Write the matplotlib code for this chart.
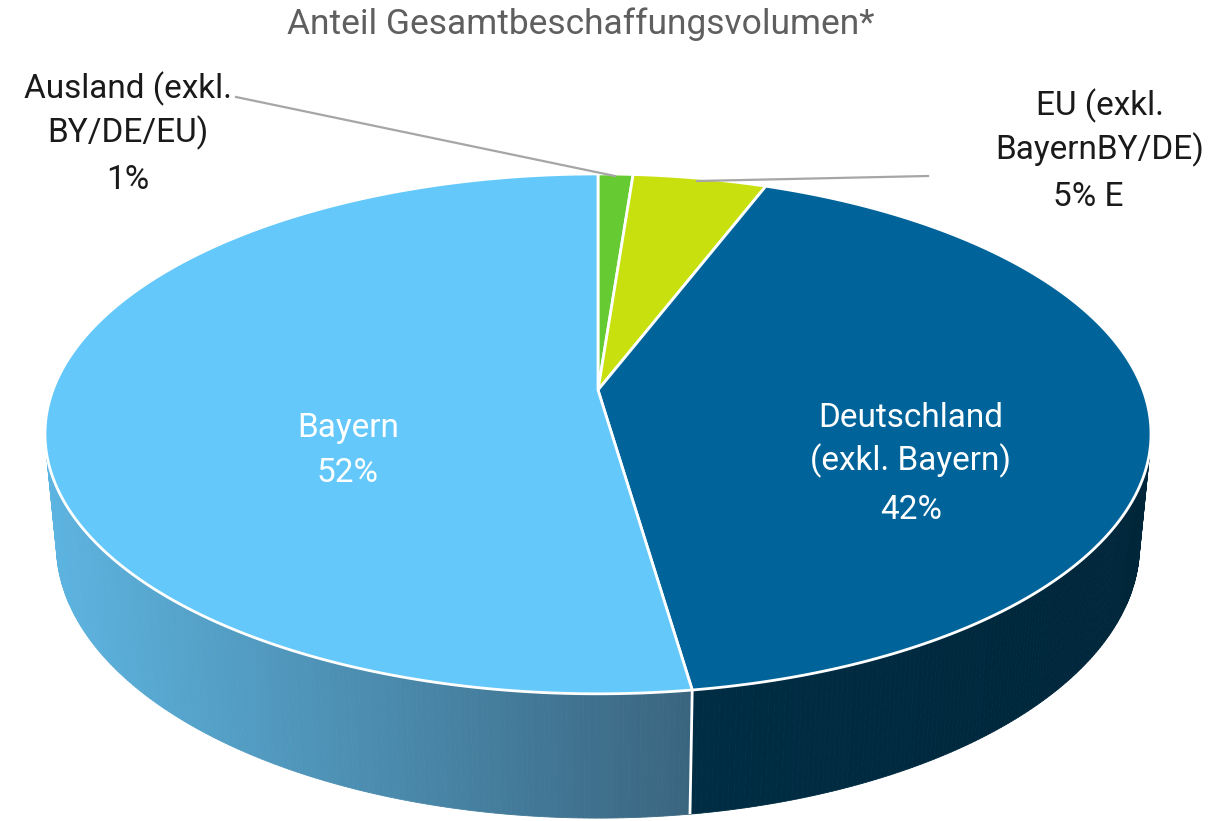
import numpy as np
import matplotlib
matplotlib.use("Agg")
import matplotlib.pyplot as plt
from matplotlib.patches import Polygon
from matplotlib.colors import to_rgb

# ---------------- data ----------------
title = "Anteil Gesamtbeschaffungsvolumen*"
categories = ["Ausland (exkl.\nBY/DE/EU)", "EU (exkl.\nBayernBY/DE)",
              "Deutschland\n(exkl. Bayern)", "Bayern"]
values = [1.2, 4.6, 41.9, 52.3]
pct_labels = ["1%", "5% E", "42%", "52%"]
top_colors = ["#66CA33", "#C8E10E", "#00649A", "#64C9FA"]
side_colors = [("#55AA2A", "#55AA2A"), ("#A8BD0B", "#A8BD0B"),
               ("#002D44", "#00263A"), ("#5DB4E0", "#3A657F")]

FONT = ["Roboto", "DejaVu Sans"]

# ---------------- projection (perspective 3D pie) ----------------
elev = np.radians(27.6)
ce, se = np.cos(elev), np.sin(elev)
Dcam = 5.25
height = 0.232
CX, CY = 598, 390


def proj(phi, z):
    X = np.cos(phi)
    ry = np.sin(phi) + Dcam * ce
    rz = z - Dcam * se
    depth = ry * ce - rz * se
    up = ry * se + rz * ce
    return X / depth, up / depth


_ph = np.linspace(-np.pi, np.pi, 4000)
_sx, _ = proj(_ph, 0.0)
K = 553.0 / _sx.max()


def to_px(phi, z):
    sx, sy = proj(phi, z)
    return CX + K * sx, CY - K * sy


fig = plt.figure(figsize=(12.15, 8.21), dpi=100)
ax = fig.add_axes([0, 0, 1, 1])
ax.set_xlim(0, 1215)
ax.set_ylim(821, 0)
ax.axis("off")

total = sum(values)
bounds = [90.0]
for v in values:
    bounds.append(bounds[-1] - 360.0 * v / total)

# side faces (only front-facing strips)
vis_lim = -1.0 / (Dcam * ce)
for i, v in enumerate(values):
    a0, a1 = np.radians(bounds[i]), np.radians(bounds[i + 1])
    n = max(4, int(abs(a1 - a0) / np.radians(0.5)))
    phis = np.linspace(a0, a1, n + 1)
    c0, c1 = np.array(to_rgb(side_colors[i][0])), np.array(to_rgb(side_colors[i][1]))
    for j in range(n):
        p0, p1 = phis[j], phis[j + 1]
        pm = 0.5 * (p0 + p1)
        if np.sin(pm) >= vis_lim:
            continue
        x0t, y0t = to_px(p0, 0.0)
        x1t, y1t = to_px(p1, 0.0)
        x0b, y0b = to_px(p0, -height)
        x1b, y1b = to_px(p1, -height)
        xm = 0.5 * (x0t + x1t)
        t = np.clip((xm - 45) / (1150 - 45), 0, 1)
        if i == 3:
            t = np.clip((xm - 45) / (690 - 45), 0, 1)
        elif i == 2:
            t = np.clip((xm - 690) / (1150 - 690), 0, 1)
        col = c0 + (c1 - c0) * t
        ax.add_patch(Polygon([(x0t, y0t), (x1t, y1t), (x1b, y1b), (x0b, y0b)],
                             closed=True, facecolor=col, edgecolor=col,
                             linewidth=0.6, zorder=2))

# white vertical seams on visible side at slice boundaries
for b in bounds:
    a = np.radians(b)
    if np.sin(a) < vis_lim:
        xt, yt = to_px(a, 0.0)
        xb, yb = to_px(a, -height)
        ax.plot([xt, xb], [yt, yb], color="white", lw=2, zorder=3,
                solid_capstyle="butt")

# top faces
apex = (CX, CY)
for i, v in enumerate(values):
    a0, a1 = np.radians(bounds[i]), np.radians(bounds[i + 1])
    n = max(8, int(abs(a1 - a0) / np.radians(0.5)))
    phis = np.linspace(a0, a1, n + 1)
    xs, ys = to_px(phis, 0.0)
    pts = [apex] + list(zip(xs, ys))
    ax.add_patch(Polygon(pts, closed=True, facecolor=top_colors[i],
                         edgecolor="white", linewidth=2, joinstyle="round",
                         zorder=4))

# ---------------- text ----------------
ax.text(581, 24, title, ha="center", va="center", fontsize=25.5,
        color="#5f5f5f", family=FONT)

lab_kw = dict(ha="center", va="center", fontsize=24, family=FONT,
              linespacing=1.35)
ax.text(128, 111, categories[0], color="#1a1a1a", **lab_kw)
ax.text(128, 180, pct_labels[0], color="#1a1a1a", **lab_kw)
ax.text(1100, 128, categories[1], color="#1a1a1a", **lab_kw)
ax.text(1088, 197, pct_labels[1], color="#1a1a1a", **lab_kw)

ax.text(911, 440, categories[2], color="white", zorder=6, **lab_kw)
ax.text(911, 510, pct_labels[2], color="white", zorder=6, **lab_kw)
ax.text(348, 428, categories[3], color="white", zorder=6, **lab_kw)
ax.text(348, 473, pct_labels[3], color="white", zorder=6, **lab_kw)

# leader lines
ax.plot([236, 615], [97, 176], color="#A6A6A6", lw=1.6, zorder=5)
ax.plot([928, 697], [176, 181], color="#A6A6A6", lw=1.6, zorder=5)

fig.savefig("out.png", dpi=100)
